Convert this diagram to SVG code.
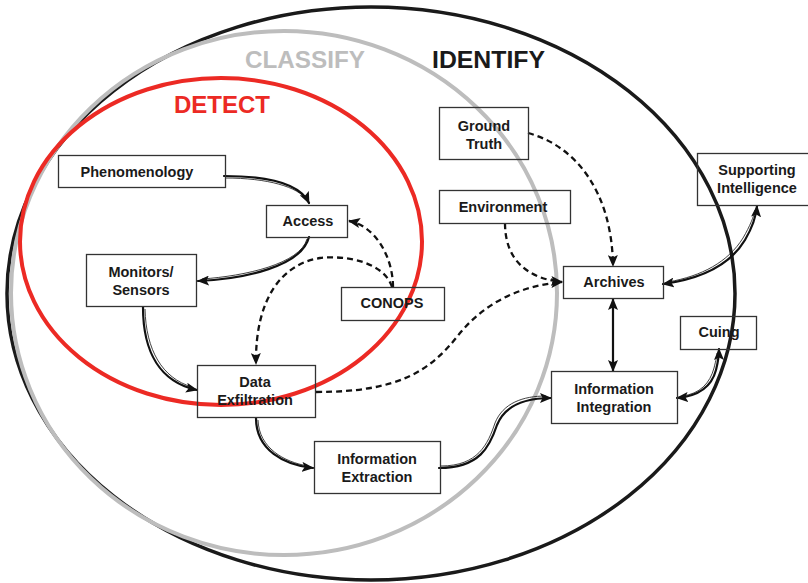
<svg xmlns="http://www.w3.org/2000/svg" width="808" height="583" viewBox="0 0 808 583">
  <style>
    .box { fill: none; stroke: #333; stroke-width: 1.3; }
    .lbl { font-family: "Liberation Sans", Arial, sans-serif; font-weight: bold; font-size: 14.5px; fill: #1a1a1a; text-anchor: middle; }
    .title { font-family: "Liberation Sans", Arial, sans-serif; font-weight: bold; font-size: 24px; }
    .solid { fill: none; stroke: #111; stroke-width: 2.2; stroke-linecap: round; }
    .sketch { fill: none; stroke: #111; stroke-width: 0.8; }
    .dash { fill: none; stroke: #111; stroke-width: 2.3; stroke-dasharray: 6 4; }
  </style>
  <defs>
    <marker id="arrow" viewBox="0 0 12 10" refX="11" refY="5" markerWidth="12" markerHeight="10" markerUnits="userSpaceOnUse" orient="auto-start-reverse">
      <path d="M0,0 L12,5 L0,10 L2.5,5 Z" fill="#111"/>
    </marker>
  </defs>

  <rect width="808" height="583" fill="#ffffff"/>

  <!-- Nested scopes -->
  <g id="scopes">
    <ellipse id="identify-scope" cx="371" cy="293.5" rx="364" ry="286.5" fill="none" stroke="#1a1a1a" stroke-width="3.5"/>
    <ellipse id="classify-scope" cx="284" cy="293" rx="273" ry="262" fill="none" stroke="#bdbdbd" stroke-width="4"/>
    <ellipse id="detect-scope" cx="221" cy="241.5" rx="201" ry="163.5" fill="none" stroke="#ec2a24" stroke-width="4"/>
    <text class="title" x="245" y="68" fill="#bdbdbd" textLength="120" lengthAdjust="spacingAndGlyphs">CLASSIFY</text>
    <text class="title" x="432" y="68" fill="#1a1a1a" textLength="113" lengthAdjust="spacingAndGlyphs">IDENTIFY</text>
    <text class="title" x="174" y="113" fill="#ec2a24" textLength="96" lengthAdjust="spacingAndGlyphs">DETECT</text>
  </g>

  <!-- Connectors -->
  <g id="connectors">
    <!-- Phenomenology to Access -->
    <path class="solid" d="M224,176 C268,176 300,184 309,203" marker-end="url(#arrow)"/>
    <path class="sketch" d="M225,178 C268,178 298,187 307,200"/>
    <!-- Access to Monitors/Sensors -->
    <path class="solid" d="M309,237 C302,266 245,279 198,281" marker-end="url(#arrow)"/>
    <path class="sketch" d="M307,239 C300,264 245,276 202,279"/>
    <!-- Monitors/Sensors to Data Exfiltration -->
    <path class="solid" d="M143,307 C143,352 160,382 197,390" marker-end="url(#arrow)"/>
    <path class="sketch" d="M145,309 C146,350 162,378 192,387"/>
    <!-- Data Exfiltration to Information Extraction -->
    <path class="solid" d="M256,418 C256,450 284,465 313,468" marker-end="url(#arrow)"/>
    <path class="sketch" d="M258,420 C259,448 284,462 308,466"/>
    <!-- Information Extraction to Information Integration -->
    <path class="solid" d="M439,468 C480,468 490,446 497,425 C505,405 525,398 551,398" marker-end="url(#arrow)"/>
    <path class="sketch" d="M441,466 C478,466 488,444 495,423 C503,403 523,396 546,396"/>
    <!-- Archives and Information Integration -->
    <path class="solid" d="M613,299 L613,371" stroke-width="2.6" marker-start="url(#arrow)" marker-end="url(#arrow)"/>
    <!-- Archives and Supporting Intelligence -->
    <path class="solid" d="M663,284 C700,279 730,265 745,240 C752,228 756,218 757,206" marker-start="url(#arrow)" marker-end="url(#arrow)"/>
    <path class="sketch" d="M668,282 C702,276 728,262 743,238 C750,226 754,216 755,210"/>
    <!-- Information Integration and Cuing -->
    <path class="solid" d="M677,398 C700,396 712,385 716,370 C718,362 719,355 719,349" marker-start="url(#arrow)" marker-end="url(#arrow)"/>
    <path class="sketch" d="M682,396 C700,394 710,383 714,368 C716,360 717,356 717,353"/>

    <!-- CONOPS to Access -->
    <path class="dash" d="M393,287 C393,258 376,226 349,221" marker-end="url(#arrow)"/>
    <!-- CONOPS to Data Exfiltration -->
    <path class="dash" d="M392,287 C384,262 346,255 320,258 C281,264 255,300 256,364" marker-end="url(#arrow)"/>
    <!-- Data Exfiltration to Archives -->
    <path class="dash" d="M316,392 C398,392 430,372 460,333 C486,302 520,286 562,282" marker-end="url(#arrow)"/>
    <!-- Ground Truth to Archives -->
    <path class="dash" d="M528,133 C576,146 612,192 613,266" marker-end="url(#arrow)"/>
    <!-- Environment to Archives -->
    <path class="dash" d="M505,223 C505,262 530,279 562,282" marker-end="url(#arrow)"/>
  </g>

  <!-- Nodes -->
  <g id="phenomenology">
    <rect class="box" x="58.5" y="155.5" width="167" height="32"/>
    <text class="lbl" x="137" y="177">Phenomenology</text>
  </g>
  <g id="access">
    <rect class="box" x="266.5" y="205.5" width="81" height="32"/>
    <text class="lbl" x="308" y="226">Access</text>
  </g>
  <g id="monitors-sensors">
    <rect class="box" x="86.5" y="254.5" width="110" height="52"/>
    <text class="lbl" x="141" y="277">Monitors/</text>
    <text class="lbl" x="141" y="295">Sensors</text>
  </g>
  <g id="conops">
    <rect class="box" x="341.5" y="287.5" width="103" height="33"/>
    <text class="lbl" x="392" y="308">CONOPS</text>
  </g>
  <g id="data-exfiltration">
    <rect class="box" x="197.5" y="365.5" width="118" height="52"/>
    <text class="lbl" x="255" y="387">Data</text>
    <text class="lbl" x="255" y="405">Exfiltration</text>
  </g>
  <g id="information-extraction">
    <rect class="box" x="314.5" y="441.5" width="126" height="52"/>
    <text class="lbl" x="377" y="464">Information</text>
    <text class="lbl" x="377" y="482">Extraction</text>
  </g>
  <g id="ground-truth">
    <rect class="box" x="439.5" y="107.5" width="89" height="52"/>
    <text class="lbl" x="484" y="131">Ground</text>
    <text class="lbl" x="484" y="149">Truth</text>
  </g>
  <g id="environment">
    <rect class="box" x="439.5" y="190.5" width="131" height="33"/>
    <text class="lbl" x="503" y="212">Environment</text>
  </g>
  <g id="archives">
    <rect class="box" x="563.5" y="266.5" width="100" height="32"/>
    <text class="lbl" x="614" y="287">Archives</text>
  </g>
  <g id="supporting-intelligence">
    <rect class="box" x="697.5" y="153.5" width="112" height="52"/>
    <text class="lbl" x="757" y="175">Supporting</text>
    <text class="lbl" x="757" y="193">Intelligence</text>
  </g>
  <g id="cuing">
    <rect class="box" x="680.5" y="316.5" width="76" height="33"/>
    <text class="lbl" x="719" y="337">Cuing</text>
  </g>
  <g id="information-integration">
    <rect class="box" x="551.5" y="371.5" width="126" height="52"/>
    <text class="lbl" x="614" y="394">Information</text>
    <text class="lbl" x="614" y="412">Integration</text>
  </g>
</svg>
